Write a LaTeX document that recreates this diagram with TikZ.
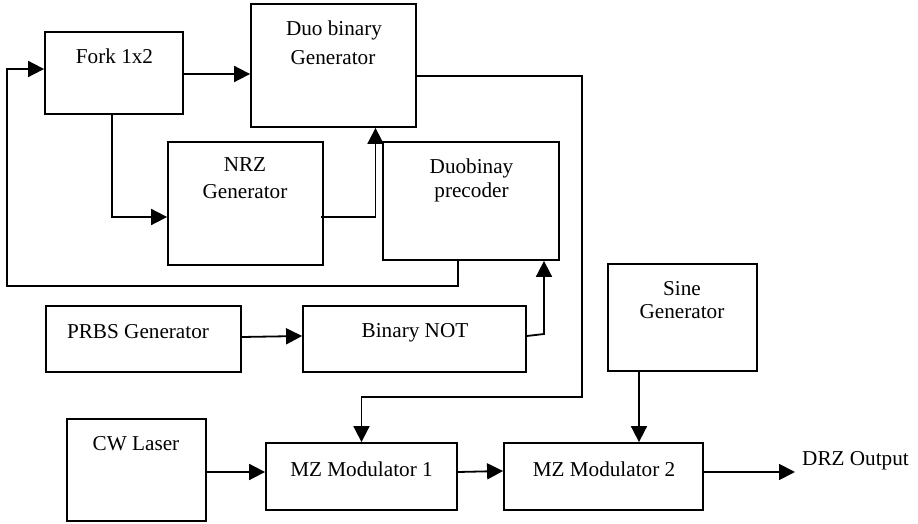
\documentclass[tikz,border=0pt]{standalone}
\usepackage{fontspec}
\setmainfont{Liberation Serif}
\usetikzlibrary{arrows.meta}
\begin{document}
\begin{tikzpicture}[x=0.5pt,y=-0.5pt,
  box/.style={draw,line width=0.9pt,rectangle,inner sep=0pt},
  txt/.style={inner sep=0pt,font=\fontsize{10.6}{12.7}\selectfont},
  arr/.style={line width=0.9pt,-{Triangle[length=8pt,width=8pt]}},
  ln/.style={line width=0.9pt}]
\useasboundingbox (0,0) rectangle (918,524);
% boxes
\node[box,minimum width=69pt,minimum height=41pt] (fork) at (114,73) {};
\node[box,minimum width=82.5pt,minimum height=61.5pt] (duo) at (333.5,65.5) {};
\node[box,minimum width=77.5pt,minimum height=61.5pt] (nrz) at (245.5,203.5) {};
\node[box,minimum width=88pt,minimum height=59pt] (pre) at (471,201) {};
\node[box,minimum width=97.5pt,minimum height=33pt] (prbs) at (143.5,339) {};
\node[box,minimum width=111.5pt,minimum height=33pt] (not) at (414.5,339) {};
\node[box,minimum width=74.5pt,minimum height=53.5pt] (sine) at (682.5,317.5) {};
\node[box,minimum width=69.5pt,minimum height=51pt] (cw) at (136.5,470) {};
\node[box,minimum width=95.5pt,minimum height=33.5pt] (mz1) at (361.5,476.5) {};
\node[box,minimum width=99.5pt,minimum height=33.5pt] (mz2) at (603.5,476.5) {};
% texts
\node[txt] (t1) at (114.5,56) {Fork 1x2};
\node[txt] (t2) at (334,30) {Duo binary};
\node[txt] (t3) at (333,58) {Generator};
\node[txt] (t4) at (245,165) {NRZ};
\node[txt] (t5) at (245,192) {Generator};
\node[txt] (t6) at (471.5,168) {Duobinay};
\node[txt] (t7) at (471.5,192) {precoder};
\node[txt] (t8) at (138,332) {PRBS Generator};
\node[txt] (t9) at (415,333) {Binary NOT};
\node[txt] (t10) at (682,289) {Sine};
\node[txt] (t11) at (682,312) {Generator};
\node[txt] (t12) at (136,444) {CW Laser};
\node[txt] (t13) at (361.5,469) {MZ Modulator 1};
\node[txt] (t14) at (604,469) {MZ Modulator 2};
\node[txt] (out) at (855.5,461) {DRZ Output};
% helper coordinates
\coordinate (fb) at (7,286);
\coordinate (c1) at (582,397);
\coordinate (c2) at (544,334);
\coordinate (c3) at (639,0);
\coordinate (c4) at (795,472);
% connectors
\draw[arr] ([xshift=-6.5pt]pre.south) |- (fb) |- ([yshift=2pt]fork.west);
\draw[arr] ([yshift=-0.5pt]fork.east) -- ([yshift=-0.5pt]fork.east -| duo.west);
\draw[arr] ([xshift=-1pt]fork.south) |- ([yshift=-6.75pt]nrz.west);
\draw[arr] ([xshift=-1.5pt,yshift=-6.75pt]nrz.east) -| ([xshift=21pt]duo.south);
\draw[arr] ([yshift=-5.25pt]duo.east) -| (c1) -| (mz1.north);
\draw[arr] ([yshift=1.5pt]not.east) -- (c2) -- (pre.south -| c2);
\draw[arr] ([yshift=1pt]prbs.east) -- ([yshift=1.5pt]not.west);
\draw[arr] ([yshift=-1pt]cw.east) -- ([yshift=-1pt]cw.east -| mz1.west);
\draw[arr] ([yshift=2.25pt]mz1.east) -- ([yshift=2.75pt]mz2.west);
\draw[arr] (sine.south -| c3) -- (mz2.north -| c3);
\draw[arr] ([yshift=2.25pt]mz2.east) -- (c4);
\end{tikzpicture}
\end{document}
